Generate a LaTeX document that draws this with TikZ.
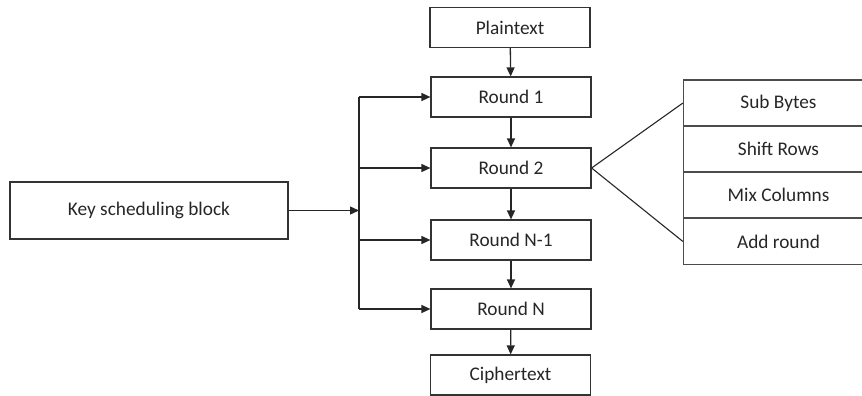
\documentclass[tikz,border=0pt]{standalone}
\usepackage{fontspec}
\setmainfont{Carlito}
\usetikzlibrary{arrows.meta}
\begin{document}
\begin{tikzpicture}[x=1pt,y=-1pt,
  every node/.style={font=\fontsize{19.3}{23}\selectfont, text=black!85},
  blk/.style={draw=black!80, line width=1.2pt, minimum width=160pt, minimum height=40pt, inner sep=0pt},
  stage/.style={draw=black!70, line width=1.2pt, minimum width=190pt, minimum height=46pt, inner sep=0pt},
  link/.style={draw=black!85, line width=1.3pt},
  arr/.style={link, -{Triangle[length=9pt,width=8pt]}}]
\useasboundingbox (0,0) rectangle (862,396);
\clip (0,0) rectangle (862,396);

% main round chain
\node[blk] (pt) at (510,27.5) {Plaintext};
\node[blk] (r1) at (511,97)   {Round 1};
\node[blk] (r2) at (511,168)  {Round 2};
\node[blk] (rn1) at (511,240) {Round N-1};
\node[blk] (rn) at (511,309)  {Round N};
\node[blk] (ct) at (510.5,375) {Ciphertext};

% key schedule
\node[blk, minimum width=278pt, minimum height=57pt] (key) at (149,210.5) {Key scheduling block};

% round operations
\node[stage] (sb) at (778.5,103) {Sub Bytes};
\node[stage] (sr) at (778.5,149) {Shift Rows};
\node[stage] (mc) at (778.5,195) {Mix Columns};
\node[stage] (ar) at (778.5,241.5) {Add round};

\draw[arr] (pt) -- (r1);
\draw[arr] (r1) -- (r2);
\draw[arr] (r2) -- (rn1);
\draw[arr] (rn1) -- (rn);
\draw[arr] (rn) -- (ct);

% key distribution bus
\coordinate (bus) at (359,210.5);
\draw[link] (bus |- r1.west) -- (bus |- rn.west);
\draw[arr] (key.east) -- (bus);
\draw[arr] (bus |- r1.west) -- (r1.west);
\draw[arr] (bus |- r2.west) -- (r2.west);
\draw[arr] (bus |- rn1.west) -- (rn1.west);
\draw[arr] (bus |- rn.west) -- (rn.west);

% expansion of one round
\draw[draw=black!85, line width=1.1pt] (sb.west) -- (r2.east) -- (ar.west);
\end{tikzpicture}
\end{document}
